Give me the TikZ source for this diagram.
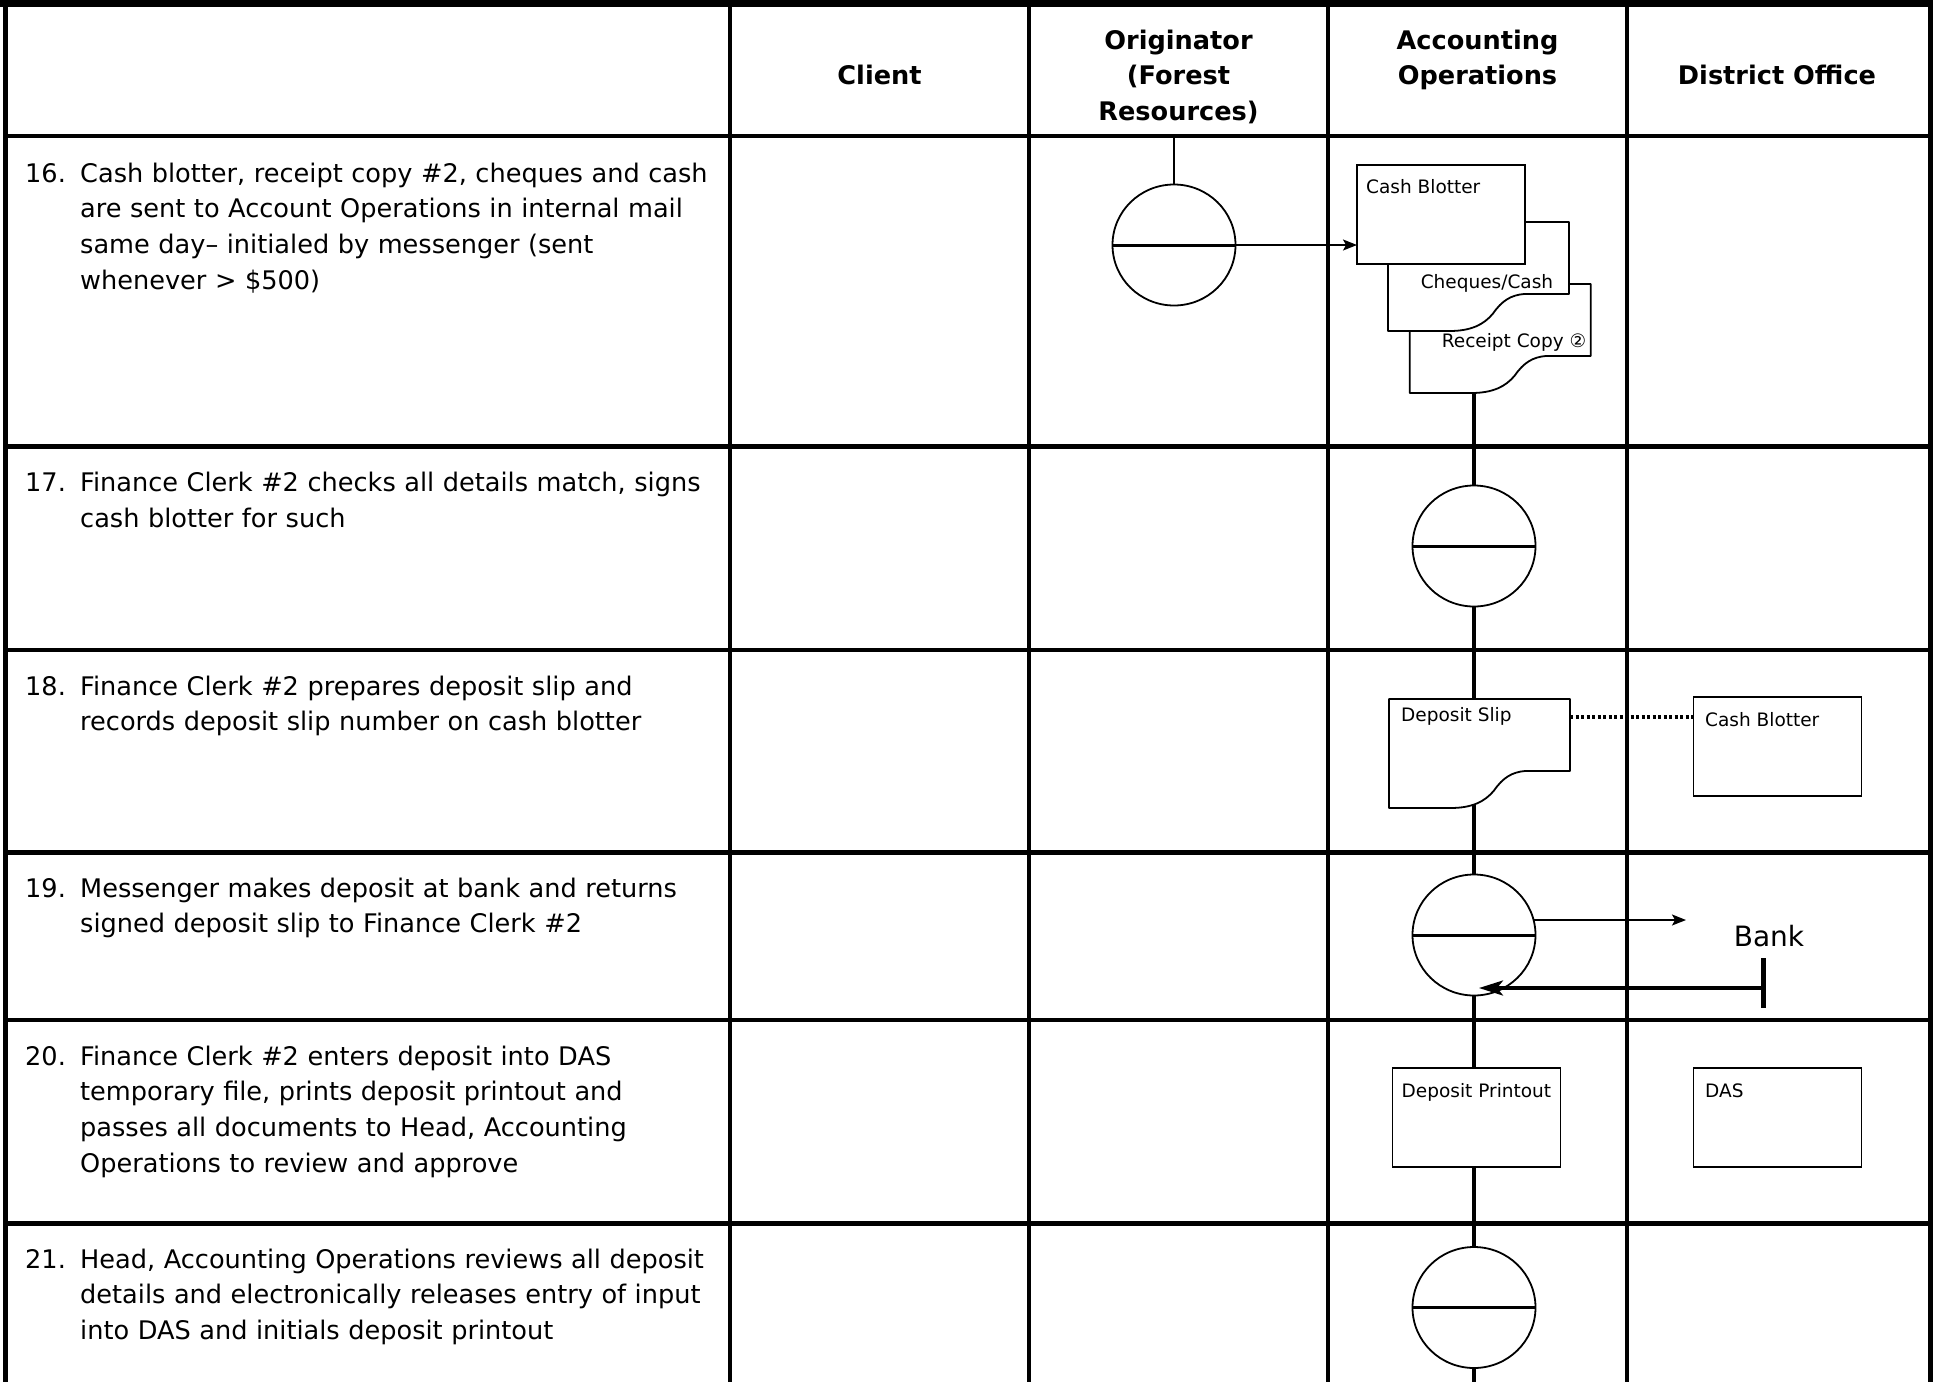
\documentclass[tikz,border=0pt]{standalone}
\usepackage{fontspec}
\setmainfont{DejaVu Sans}
\usetikzlibrary{arrows.meta,calc,shapes.geometric}
\pgfdeclarelayer{bg}
\pgfsetlayers{bg,main}
\tikzset{
  tablegrid/.style={line width=4.5pt},
  conn/.style={line width=3.3pt},
  circ/.style={ellipse, draw, fill=white, line width=1.8pt, minimum width=123pt, minimum height=121pt, inner sep=0pt, outer sep=0pt},
  diam/.style={line width=3pt},
  box/.style={rectangle, draw, fill=white, line width=1.8pt, minimum width=168pt, minimum height=99pt, inner sep=0pt, outer sep=0pt},
  docbox/.style={rectangle, minimum width=181pt, minimum height=109pt, inner sep=0pt, outer sep=0pt},
  docsty/.style={draw, fill=white, line width=1.8pt, line join=round},
  lbl/.style={font=\fontsize{18.5}{22}\selectfont, inner sep=0pt, anchor=base west},
  body/.style={font=\fontsize{25.6}{35.6}\selectfont, inner sep=0pt, anchor=north west, text width=690pt, align=left},
  num/.style={font=\fontsize{25.6}{35.6}\selectfont, inner sep=0pt, anchor=base west},
  head/.style={font=\fontsize{25.6}{35.6}\selectfont\bfseries, inner sep=0pt, anchor=north, align=center},
  arr/.style={line width=1.5pt, -{Stealth[length=14pt,width=11pt,inset=3pt]}},
  ret/.style={line width=3.5pt, -{Stealth[length=24pt,width=15pt,inset=6pt]}},
  dotline/.style={line width=4pt, dash pattern=on 3pt off 2.5pt},
  barsty/.style={line width=5pt}
}
\newcommand\docpath[1]{%
  \path[docsty] let \p1=(#1.north west), \p2=(#1.south east),
    \n1={\x2-\x1}, \n2={\y2-\y1} in
    (\x1,\y1) -- (\x2,\y1) -- (\x2,{\y1+0.66*\n2})
    -- ({\x1+0.754*\n1},{\y1+0.66*\n2})
    .. controls ({\x1+0.68*\n1},{\y1+0.67*\n2}) and ({\x1+0.63*\n1},{\y1+0.72*\n2}) .. ({\x1+0.58*\n1},{\y1+0.84*\n2})
    .. controls ({\x1+0.53*\n1},{\y1+0.94*\n2}) and ({\x1+0.46*\n1},\y2) .. ({\x1+0.34*\n1},\y2)
    -- (\x1,\y2) -- cycle;}
\begin{document}
\begin{tikzpicture}[x=1pt,y=-1pt]
\useasboundingbox (0,0) rectangle (1933,1382);

% ---------- header ----------
\node[head] (hClient) at (879.5,59.4) {\strut Client};
\node[head] (hOrig) at (1178.5,23.9) {\strut Originator\\(Forest\\Resources)};
\node[head] (hAcct) at (1477.5,23.9) {\strut Accounting\\Operations};
\node[head] (hDist) at (1777,59.4) {\strut District Office};

% ---------- step texts ----------
\node[num] (n16) at (25,182) {16.};
\node[body] (t16) at (80,157.1) {\strut Cash blotter, receipt copy \#2, cheques and cash\\are sent to Account Operations in internal mail\\same day– initialed by messenger (sent\\whenever > \$500)};
\node[num] (n17) at (25,491.5) {17.};
\node[body] (t17) at (80,466.6) {\strut Finance Clerk \#2 checks all details match, signs\\cash blotter for such};
\node[num] (n18) at (25,695) {18.};
\node[body] (t18) at (80,670.1) {\strut Finance Clerk \#2 prepares deposit slip and\\records deposit slip number on cash blotter};
\node[num] (n19) at (25,897) {19.};
\node[body] (t19) at (80,872.1) {\strut Messenger makes deposit at bank and returns\\signed deposit slip to Finance Clerk \#2};
\node[num] (n20) at (25,1065) {20.};
\node[body] (t20) at (80,1040.1) {\strut Finance Clerk \#2 enters deposit into DAS\\temporary file, prints deposit printout and\\passes all documents to Head, Accounting\\Operations to review and approve};
\node[num] (n21) at (25,1268) {21.};
\node[body] (t21) at (80,1243.1) {\strut Head, Accounting Operations reviews all deposit\\details and electronically releases entry of input\\into DAS and initials deposit printout};

% ---------- shapes ----------
\node[docbox] (rc16) at (1500.25,338.5) {};
\node[docbox] (ch16) at (1478.5,276.5) {};
\node[docbox] (ds18) at (1479.5,753.5) {};
\docpath{rc16}
\docpath{ch16}
\node[box] (cb16) at (1441,214.5) {};
\docpath{ds18}
\node[box] (cb18) at (1777.5,746.5) {};
\node[box] (dp20) at (1476.5,1117.5) {};
\node[box] (das20) at (1777.5,1117.5) {};

\node[circ] (c16) at (1174,245) {};
\node[circ] (c17) at (1474,546) {};
\node[circ] (c19) at (1474,935) {};
\node[circ] (c21) at (1474,1307.5) {};
\foreach \c in {c16,c17,c19,c21}{\draw[diam] (\c.west) -- (\c.east);}

% ---------- labels in shapes ----------
\node[lbl] (cb16l) at ($(cb16.north west)+(9,28)$) {Cash Blotter};
\node[lbl, anchor=base] (ch16l) at (1487,288) {Cheques/Cash};
\node[lbl, anchor=base] (rc16l) at (1514,347) {Receipt Copy ②};
\node[lbl] (ds18l) at ($(ds18.north west)+(12,22)$) {Deposit Slip};
\node[lbl] (cb18l) at ($(cb18.north west)+(11.5,29)$) {Cash Blotter};
\node[lbl] (dp20l) at ($(dp20.north west)+(9,29)$) {Deposit Printout};
\node[lbl] (das20l) at ($(das20.north west)+(11.5,29)$) {DAS};

\node[font=\fontsize{28}{30}\selectfont, inner sep=0pt] (bank) at (1769,936) {Bank};

% ---------- coordinates ----------
\coordinate (otop) at (1174,136);
\coordinate (bot) at (1474,1382);
\coordinate (tobank) at (1686,920);
\coordinate (bankbar) at (1763,988);
\coordinate (c19tip) at ($(c19.south)+(5,-7)$);
\coordinate (dsr) at ($(ds18.north east)+(0,18)$);

% ---------- background: table and connectors ----------
\begin{pgfonlayer}{bg}
  \fill[white] (0,0) rectangle (1933,1382);
  \draw[line width=7pt] (0,3.5) -- (1933,3.5);
  \draw[line width=5pt] (5.5,0) -- (5.5,1382);
  \draw[line width=5pt] (1930,0) -- (1930,1382);
  \foreach \xx in {730,1029,1328,1627}{\draw[tablegrid] (\xx,0) -- (\xx,1382);}
  \foreach \yy in {136,446.5,650,852.5,1020,1223.5}{\draw[tablegrid] (3,\yy) -- (1932,\yy);}
  \draw[conn, line width=2.7pt] (otop) -- (c16.north);
  \draw[arr] (c16) -- (c16 -| cb16.west);
  \draw[conn] (rc16.south -| c17) -- (c17);
  \draw[conn] (c17) -- (ds18.center -| c17);
  \draw[conn] (ds18.center -| c19) -- (c19);
  \draw[conn] (c19) -- (dp20.center -| c19);
  \draw[conn] (dp20.center -| c21) -- (c21);
  \draw[conn] (c21) -- (bot);
  \draw[dotline] (dsr) -- (dsr -| cb18.west);
  \draw[arr] (c19.center |- tobank) -- (tobank);
\end{pgfonlayer}

% ---------- return from bank ----------
\draw[barsty] ($(bankbar)+(0,-30)$) -- ($(bankbar)+(0,20)$);
\draw[ret] (bankbar) -- (bankbar -| c19tip);
\end{tikzpicture}
\end{document}
